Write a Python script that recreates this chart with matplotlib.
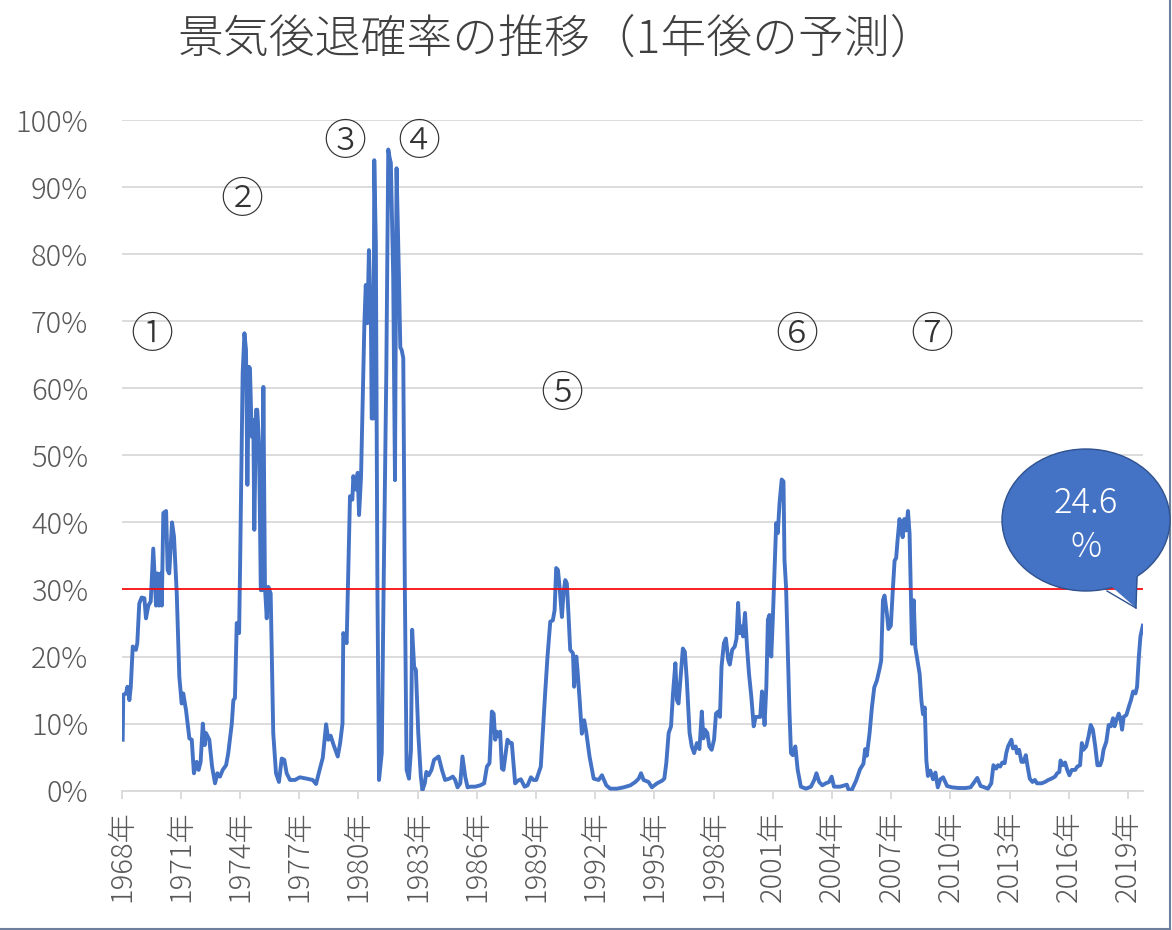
import matplotlib
matplotlib.use("Agg")
import matplotlib.pyplot as plt
from matplotlib.patches import Ellipse, Polygon
from matplotlib.lines import Line2D

plt.rcParams['font.family'] = ['Noto Sans CJK JP', 'DejaVu Sans']

# decimal year / recession probability (%)
year = [
    1968.05, 1968.08, 1968.22, 1968.29, 1968.39, 1968.46, 1968.56, 1968.72, 1968.79, 1968.89,
    1969.01, 1969.15, 1969.23, 1969.35, 1969.47, 1969.60, 1969.74, 1969.81, 1969.89, 1969.98,
    1970.03, 1970.11, 1970.25, 1970.33, 1970.41, 1970.55, 1970.65, 1970.79, 1970.92, 1971.04,
    1971.12, 1971.26, 1971.43, 1971.55, 1971.66, 1971.80, 1971.90, 1972.00, 1972.11, 1972.21,
    1972.27, 1972.44, 1972.58, 1972.73, 1972.85, 1972.98, 1973.12, 1973.29, 1973.40, 1973.58,
    1973.66, 1973.74, 1973.83, 1973.95, 1974.00, 1974.13, 1974.22, 1974.30, 1974.37, 1974.45,
    1974.50, 1974.59, 1974.67, 1974.72, 1974.81, 1974.87, 1974.96, 1975.05, 1975.11, 1975.18,
    1975.26, 1975.35, 1975.43, 1975.55, 1975.68, 1975.82, 1975.97, 1976.11, 1976.24, 1976.36,
    1976.53, 1976.78,
    1977.03, 1977.37, 1977.68, 1977.85, 1978.02, 1978.19, 1978.36, 1978.47, 1978.59, 1978.73,
    1978.95, 1979.07, 1979.19, 1979.23, 1979.40, 1979.49, 1979.57, 1979.69, 1979.74, 1979.86,
    1979.96, 1980.03, 1980.13, 1980.30, 1980.37, 1980.45, 1980.53, 1980.63, 1980.67, 1980.76,
    1980.80, 1980.88, 1980.96, 1981.04, 1981.18, 1981.27, 1981.41, 1981.51, 1981.57, 1981.64,
    1981.76, 1981.85, 1981.93, 1982.05, 1982.12, 1982.19, 1982.27, 1982.35, 1982.44, 1982.56,
    1982.66, 1982.72, 1982.82, 1982.91, 1983.03, 1983.16, 1983.24, 1983.36, 1983.44, 1983.56,
    1983.70, 1983.83,
    1984.06, 1984.23, 1984.39, 1984.61, 1984.78, 1984.90, 1985.02, 1985.16, 1985.27, 1985.41,
    1985.53, 1985.66, 1985.92, 1986.17, 1986.37, 1986.51, 1986.64, 1986.76, 1986.85, 1986.93,
    1987.01, 1987.10, 1987.18, 1987.27, 1987.35, 1987.55, 1987.69, 1987.77, 1987.94, 1988.08,
    1988.23, 1988.42, 1988.57, 1988.74, 1988.87, 1989.01, 1989.24, 1989.46, 1989.58, 1989.72,
    1989.85, 1989.94, 1990.02, 1990.11, 1990.19, 1990.31, 1990.39, 1990.48, 1990.56, 1990.65,
    1990.73, 1990.87, 1990.93, 1991.04, 1991.10, 1991.21, 1991.32, 1991.44, 1991.54, 1991.71,
    1991.92, 1992.17, 1992.34, 1992.56, 1992.76, 1993.10, 1993.44, 1993.78, 1994.03, 1994.20,
    1994.32, 1994.45, 1994.70, 1994.87, 1995.13,
    1995.39, 1995.50, 1995.60, 1995.72, 1995.84, 1995.94, 1996.06, 1996.14, 1996.22, 1996.34,
    1996.44, 1996.54, 1996.64, 1996.78, 1996.89, 1997.01, 1997.15, 1997.28, 1997.40, 1997.48,
    1997.56, 1997.68, 1997.78, 1997.90, 1998.02, 1998.12, 1998.23, 1998.32, 1998.40, 1998.52,
    1998.62, 1998.74, 1998.82, 1998.94, 1999.07, 1999.16, 1999.24, 1999.32, 1999.41, 1999.49,
    1999.59, 1999.69, 1999.79, 1999.91, 2000.03, 2000.13, 2000.25, 2000.36, 2000.45, 2000.50,
    2000.58, 2000.67, 2000.75, 2000.83, 2000.92, 2001.00, 2001.08, 2001.17, 2001.25, 2001.34,
    2001.45, 2001.54, 2001.59, 2001.67, 2001.75, 2001.84, 2001.92, 2002.01, 2002.14, 2002.26,
    2002.42, 2002.68, 2002.93, 2003.10, 2003.21, 2003.35, 2003.51, 2003.68, 2003.85, 2003.98,
    2004.10,
    2004.41, 2004.75, 2004.83, 2005.00, 2005.22, 2005.42, 2005.59, 2005.68, 2005.76, 2005.90,
    2006.02, 2006.14, 2006.27, 2006.41, 2006.49, 2006.58, 2006.66, 2006.78, 2006.86, 2006.98,
    2007.08, 2007.17, 2007.25, 2007.32, 2007.42, 2007.49, 2007.58, 2007.66, 2007.75, 2007.85,
    2007.93, 2008.00, 2008.05, 2008.14, 2008.22, 2008.34, 2008.44, 2008.53, 2008.61, 2008.70,
    2008.78, 2008.86, 2008.98, 2009.12, 2009.24, 2009.36, 2009.49, 2009.63, 2009.83, 2010.08,
    2010.42, 2010.76, 2011.02, 2011.19, 2011.36, 2011.53,
    2011.64, 2011.90, 2012.07, 2012.18, 2012.32, 2012.41, 2012.52, 2012.63, 2012.75, 2012.83,
    2012.92, 2013.09, 2013.17, 2013.31, 2013.37, 2013.48, 2013.60, 2013.71, 2013.82, 2013.90,
    2014.02, 2014.16, 2014.28, 2014.39, 2014.62, 2014.79, 2014.96, 2015.12, 2015.30, 2015.41,
    2015.52, 2015.58, 2015.69, 2015.81, 2015.92, 2016.03, 2016.15, 2016.32, 2016.43, 2016.57,
    2016.66, 2016.74, 2016.88, 2017.00, 2017.11, 2017.22, 2017.34, 2017.45, 2017.59, 2017.68,
    2017.76, 2017.90, 2018.02, 2018.13, 2018.24, 2018.32, 2018.41, 2018.53, 2018.61, 2018.70,
    2018.78, 2018.92, 2019.04, 2019.15, 2019.26, 2019.38, 2019.46, 2019.55, 2019.63, 2019.75,
]
prob = [
    7.6, 14.3, 14.5, 15.5, 13.5, 15.5, 21.5, 21.0, 22.0, 27.9,
    28.8, 28.7, 25.7, 27.6, 28.2, 36.1, 27.6, 32.4, 27.6, 32.4,
    27.6, 41.4, 41.7, 32.9, 32.4, 40.0, 37.9, 29.4, 17.0, 13.0,
    14.5, 12.0, 7.8, 7.6, 2.6, 4.3, 3.1, 4.3, 10.0, 6.8,
    8.6, 7.6, 3.6, 1.1, 2.6, 2.1, 3.1, 3.8, 5.6, 10.0,
    13.5, 13.8, 25.0, 23.5, 33.4, 62.2, 68.2, 65.7, 45.6, 63.2,
    63.0, 52.8, 55.3, 38.9, 56.8, 56.8, 51.8, 29.9, 29.9, 60.2,
    30.4, 25.7, 30.4, 29.4, 8.6, 2.6, 1.3, 4.8, 4.6, 2.6,
    1.6, 1.6,
    2.0, 1.8, 1.6, 1.0, 3.0, 4.9, 9.9, 7.6, 8.2, 6.9,
    5.1, 7.1, 10.0, 23.5, 22.0, 33.4, 43.9, 43.4, 46.9, 44.9,
    47.4, 41.1, 46.9, 69.7, 75.4, 69.7, 80.6, 70.2, 55.5, 55.5,
    94.0, 81.6, 30.0, 1.6, 5.6, 29.3, 62.2, 95.6, 94.5, 93.6,
    76.7, 46.3, 92.8, 76.7, 66.1, 65.7, 64.5, 30.0, 3.1, 1.8,
    6.1, 24.0, 18.5, 18.0, 8.6, 2.1, 0.1, 1.1, 2.8, 2.3,
    3.1, 4.6,
    5.1, 3.1, 1.6, 1.8, 2.1, 1.6, 0.5, 1.1, 5.1, 2.1,
    0.5, 0.6, 0.6, 0.8, 1.1, 3.6, 4.1, 11.8, 11.5, 7.6,
    8.8, 8.1, 8.8, 3.3, 3.1, 7.6, 7.1, 7.1, 1.1, 1.5,
    1.7, 0.6, 0.8, 2.0, 1.6, 1.6, 3.6, 14.5, 20.0, 25.2,
    25.4, 26.9, 33.2, 32.9, 30.4, 25.9, 29.4, 31.4, 30.9, 25.9,
    21.0, 20.5, 15.5, 20.0, 18.0, 13.5, 8.5, 10.5, 8.8, 5.1,
    1.8, 1.6, 2.3, 0.8, 0.3, 0.3, 0.5, 0.8, 1.3, 1.8,
    2.6, 1.6, 1.3, 0.5, 1.1,
    1.5, 1.8, 4.1, 8.6, 9.6, 14.5, 19.0, 13.5, 13.0, 17.5,
    21.2, 20.7, 16.5, 8.6, 6.6, 5.6, 7.1, 6.2, 11.8, 7.8,
    9.1, 8.6, 6.6, 6.1, 7.6, 11.5, 11.8, 11.0, 18.5, 22.0,
    22.7, 19.5, 18.8, 21.0, 21.5, 22.7, 28.0, 23.5, 24.5, 23.0,
    26.5, 21.5, 17.5, 14.0, 9.6, 11.0, 11.0, 11.0, 14.8, 13.5,
    9.8, 15.5, 25.5, 26.2, 20.0, 25.7, 32.4, 39.9, 38.4, 42.9,
    46.4, 46.1, 34.4, 30.4, 22.0, 12.0, 5.6, 5.3, 6.6, 3.1,
    0.6, 0.3, 0.6, 1.6, 2.6, 1.3, 0.8, 1.1, 1.3, 2.1,
    0.6,
    0.6, 0.9, 0.2, 0.1, 1.5, 3.2, 4.0, 6.2, 5.2, 8.5,
    12.4, 15.4, 16.4, 18.2, 19.4, 28.4, 29.1, 26.4, 24.1, 24.6,
    29.9, 34.3, 34.7, 37.3, 40.5, 39.1, 37.8, 40.5, 38.8, 41.7,
    38.3, 28.4, 21.9, 28.4, 21.4, 19.2, 17.4, 13.4, 11.4, 12.4,
    4.5, 2.2, 3.0, 1.7, 2.7, 0.5, 1.7, 2.0, 0.7, 0.5,
    0.4, 0.4, 0.5, 1.2, 1.9, 0.7,
    0.6, 0.3, 1.1, 3.8, 3.3, 3.8, 3.6, 4.2, 4.1, 5.6,
    6.6, 7.6, 6.3, 6.6, 5.6, 6.1, 4.3, 4.3, 5.3, 3.8,
    1.8, 1.3, 1.6, 1.1, 1.1, 1.3, 1.6, 1.8, 2.1, 2.6,
    2.8, 4.5, 3.8, 4.2, 3.1, 2.3, 3.1, 3.1, 3.6, 3.8,
    7.1, 6.1, 6.6, 8.1, 9.8, 9.1, 6.6, 3.8, 3.8, 4.6,
    6.1, 7.3, 9.8, 9.6, 10.8, 9.6, 10.5, 11.5, 10.8, 9.1,
    11.0, 11.3, 12.5, 13.5, 14.8, 14.5, 15.5, 20.0, 23.0, 24.6,
]

threshold = 30
latest = "24.6\n%"
tick_years = list(range(1968, 2020, 3))
y_ticks = list(range(0, 101, 10))

# circled markers for each recession episode
marks = ["①", "②", "③", "④", "⑤", "⑥", "⑦"]
mark_x = [1969.54, 1974.10, 1979.32, 1983.07, 1990.32, 2002.23, 2009.07]
mark_y = [67.8, 88.0, 96.7, 96.7, 59.1, 67.8, 67.8]

W, H = 1172, 930
fig = plt.figure(figsize=(W / 100, H / 100), dpi=100)
ax = fig.add_axes([121.7 / W, 1 - 790.7 / H, (1143 - 121.7) / W, (790.7 - 120) / H])

ax.plot(year, prob, color='#4472C4', lw=2.8, zorder=3, solid_joinstyle='round')
ax.axhline(threshold, color='#ff0000', lw=1.2, zorder=4)

ax.set_xlim(1968, 2019.76)
ax.set_ylim(0, 100)
ax.set_yticks(y_ticks)
ax.set_yticklabels([f"{v}%" for v in y_ticks], fontweight='light')
ax.set_xticks(tick_years)
ax.set_xticklabels([f"{y}年" for y in tick_years], rotation=90, fontweight='light')
ax.grid(axis='y', color='#d9d9d9', lw=1.3)
ax.set_axisbelow(True)
for s in ['top', 'right', 'left']:
    ax.spines[s].set_visible(False)
ax.spines['bottom'].set_color('#d9d9d9')
ax.spines['bottom'].set_linewidth(1.3)
ax.tick_params(axis='y', length=0, pad=24, labelsize=21, labelcolor='#595959')
ax.tick_params(axis='x', length=6, width=1.3, color='#d9d9d9', pad=8,
               labelsize=21, labelcolor='#595959')

for m, mx, my in zip(marks, mark_x, mark_y):
    ax.text(mx, my, m, fontsize=31, color='#333333', ha='center', va='center',
            fontweight='light')

fig.text(557 / W, 1 - 40 / H, "景気後退確率の推移（1年後の予測）", fontsize=33,
         color='#404040', ha='center', va='center', fontweight='light')


# speech-bubble callout for the latest value (pixel layout)
def px(x, y):
    return (x / W, 1 - y / H)


tail = Polygon([px(1104, 580), px(1136, 608), px(1138, 565)], closed=True,
               transform=fig.transFigure, facecolor='#4472C4', edgecolor='none', zorder=5)
bubble = Ellipse(px(1086, 520), 168 / W, 142 / H, transform=fig.transFigure,
                 facecolor='#4472C4', edgecolor='#2F528F', lw=1.0, zorder=4)
fig.patches.extend([bubble, tail])
fig.lines.append(Line2D([1107 / W, 1136 / W], [1 - 591 / H, 1 - 608 / H],
                        transform=fig.transFigure, color='#2F528F', lw=1.0, zorder=6))
fig.lines.append(Line2D([1136 / W, 1137 / W], [1 - 608 / H, 1 - 577 / H],
                        transform=fig.transFigure, color='#2F528F', lw=1.0, zorder=6))
fig.text(1086 / W, 1 - 525 / H, latest, fontsize=25, color='white', ha='center',
         va='center', linespacing=1.3, zorder=7, fontweight='light')

# frame edges visible in the screenshot
fig.lines.append(Line2D([0, 1169.5 / W], [1 - 928.5 / H] * 2, transform=fig.transFigure,
                        color='#6d7f9c', lw=1.5))
fig.lines.append(Line2D([1169.5 / W] * 2, [0, 1], transform=fig.transFigure,
                        color='#6d7f9c', lw=1.5))

fig.savefig("out.png", dpi=100)
